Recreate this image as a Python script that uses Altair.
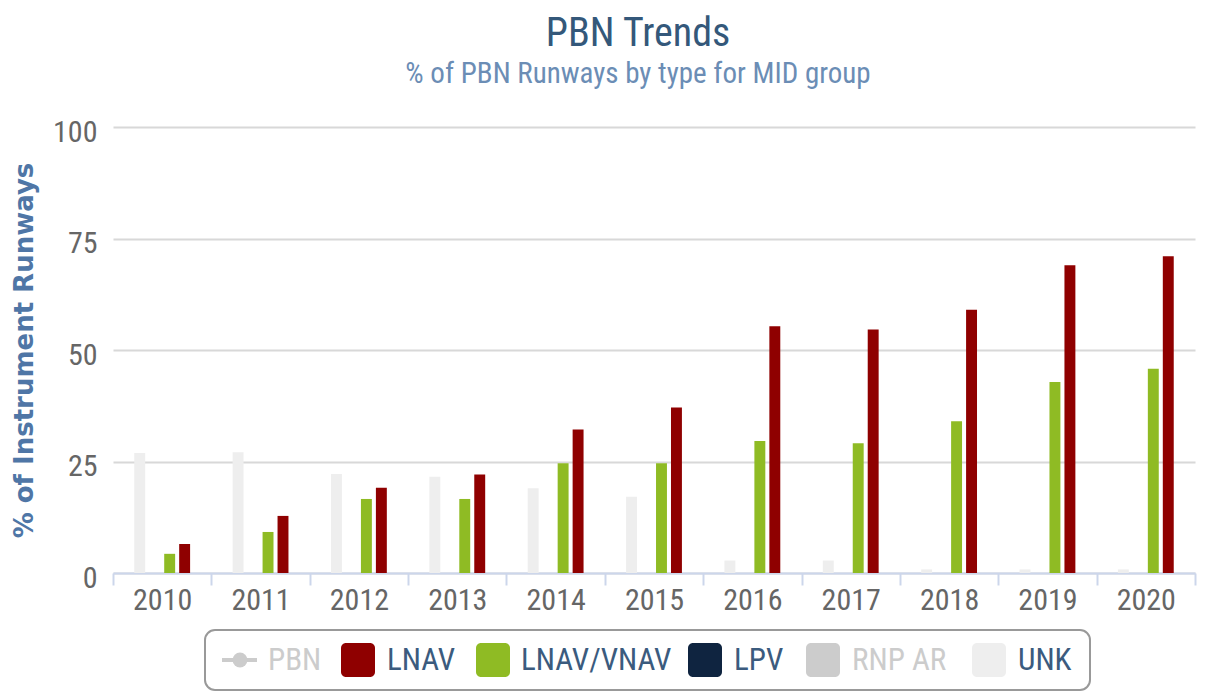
import altair as alt
import pandas as pd

years = [str(y) for y in range(2010, 2021)]
unk = [26.9, 27.1, 22.2, 21.6, 19.0, 17.1, 2.8, 2.8, 0.8, 0.8, 0.8]
lpv = [0, 0, 0, 0, 0, 0, 0, 0, 0, 0, 0]
lnav_vnav = [4.3, 9.2, 16.6, 16.6, 24.6, 24.6, 29.6, 29.1, 34.0, 42.8, 45.8]
lnav = [6.5, 12.8, 19.1, 22.1, 32.2, 37.1, 55.3, 54.6, 59.0, 69.0, 71.0]

series_order = ["UNK", "LPV", "LNAV/VNAV", "LNAV"]
series_colors = ["#eeeeee", "#0f2440", "#8fbb24", "#8f0000"]
offset_domain = ["_l"] + series_order + ["_r"]

rows = []
for name, vals in zip(series_order, [unk, lpv, lnav_vnav, lnav]):
    for y, v in zip(years, vals):
        rows.append({"year": y, "series": name, "value": v})
df = pd.DataFrame(rows)

NARROW = "Liberation Sans Narrow, Arial Narrow, Roboto Condensed, sans-serif"
W, H = 1082, 446

bars = alt.Chart(df).mark_bar(xOffset=2).encode(
    x=alt.X("year:N", sort=years, title=None,
            scale=alt.Scale(paddingInner=0, paddingOuter=0),
            axis=alt.Axis(labelAngle=0, labelFont=NARROW, labelFontSize=30,
                          labelColor="#666666", domainColor="#ccd6eb", domainWidth=2,
                          tickColor="#ccd6eb", tickWidth=2, tickSize=12, tickBand="extent",
                          labelPadding=0, grid=False)),
    xOffset=alt.XOffset("series:N",
                        scale=alt.Scale(domain=offset_domain, paddingInner=0.27, paddingOuter=0.42)),
    y=alt.Y("value:Q", title="% of Instrument Runways",
            scale=alt.Scale(domain=[0, 100], nice=False),
            axis=alt.Axis(values=[0, 25, 50, 75, 100], labelFont=NARROW, labelFontSize=30,
                          labelColor="#666666", labelPadding=16, labelOffset=5,
                          ticks=False, domain=False, gridColor="#d8d8d8", gridWidth=2,
                          titleFont="DejaVu Sans", titleFontSize=26, titleFontWeight="bold",
                          titleColor="#4f76a6", titlePadding=15)),
    color=alt.Color("series:N", scale=alt.Scale(domain=series_order, range=series_colors), legend=None),
)

one = pd.DataFrame({"k": [0]})
layers = [bars]

# legend frame (page coordinates converted to plot coordinates: x-113, y-127)
PX, PY = 113, 127
layers.append(alt.Chart(one).mark_rect(fill="white", stroke="#999999", strokeWidth=2, cornerRadius=10).encode(
    x=alt.value(205 - PX), x2=alt.value(1090 - PX), y=alt.value(630 - PY), y2=alt.value(690 - PY)))

cy = 660 - PY
legend_items = [
    ("PBN", "#cccccc", "#cccccc", 222, 268, "line"),
    ("LNAV", "#8f0000", "#3b5b7e", 341, 387, "rect"),
    ("LNAV/VNAV", "#8fbb24", "#3b5b7e", 476, 521, "rect"),
    ("LPV", "#0f2440", "#3b5b7e", 688, 734, "rect"),
    ("RNP AR", "#cccccc", "#cccccc", 806, 852, "rect"),
    ("UNK", "#eeeeee", "#3b5b7e", 972, 1018, "rect"),
]
for label, sym_col, lab_col, sx, lx, kind in legend_items:
    if kind == "rect":
        layers.append(alt.Chart(one).mark_rect(fill=sym_col, cornerRadius=5).encode(
            x=alt.value(sx - PX), x2=alt.value(sx + 34 - PX),
            y=alt.value(cy - 17), y2=alt.value(cy + 17)))
    else:
        layers.append(alt.Chart(one).mark_rule(color=sym_col, strokeWidth=4).encode(
            x=alt.value(sx - PX), x2=alt.value(sx + 35 - PX), y=alt.value(cy)))
        layers.append(alt.Chart(one).mark_point(filled=True, color=sym_col, size=220, opacity=1).encode(
            x=alt.value(sx + 18 - PX), y=alt.value(cy)))
    layers.append(alt.Chart(one).mark_text(text=label, font=NARROW, fontSize=31, color=lab_col,
                                           align="left", baseline="middle").encode(
        x=alt.value(lx - PX), y=alt.value(cy + 1)))

chart = alt.layer(*layers).properties(
    width=W, height=H,
    title=alt.TitleParams(text="PBN Trends", subtitle="% of PBN Runways by type for MID group",
                          font=NARROW, fontSize=40, fontWeight="normal", color="#34587a",
                          subtitleFont=NARROW, subtitleFontSize=29, subtitleColor="#6b8db5",
                          subtitlePadding=6, anchor="middle", dx=-16, offset=28),
    autosize=alt.AutoSizeParams(type="none"),
    padding={"left": 105, "top": 119, "right": 2, "bottom": 118},
).configure_view(stroke=None)

chart.save("out.html", embed_options={"renderer": "svg", "actions": False})
